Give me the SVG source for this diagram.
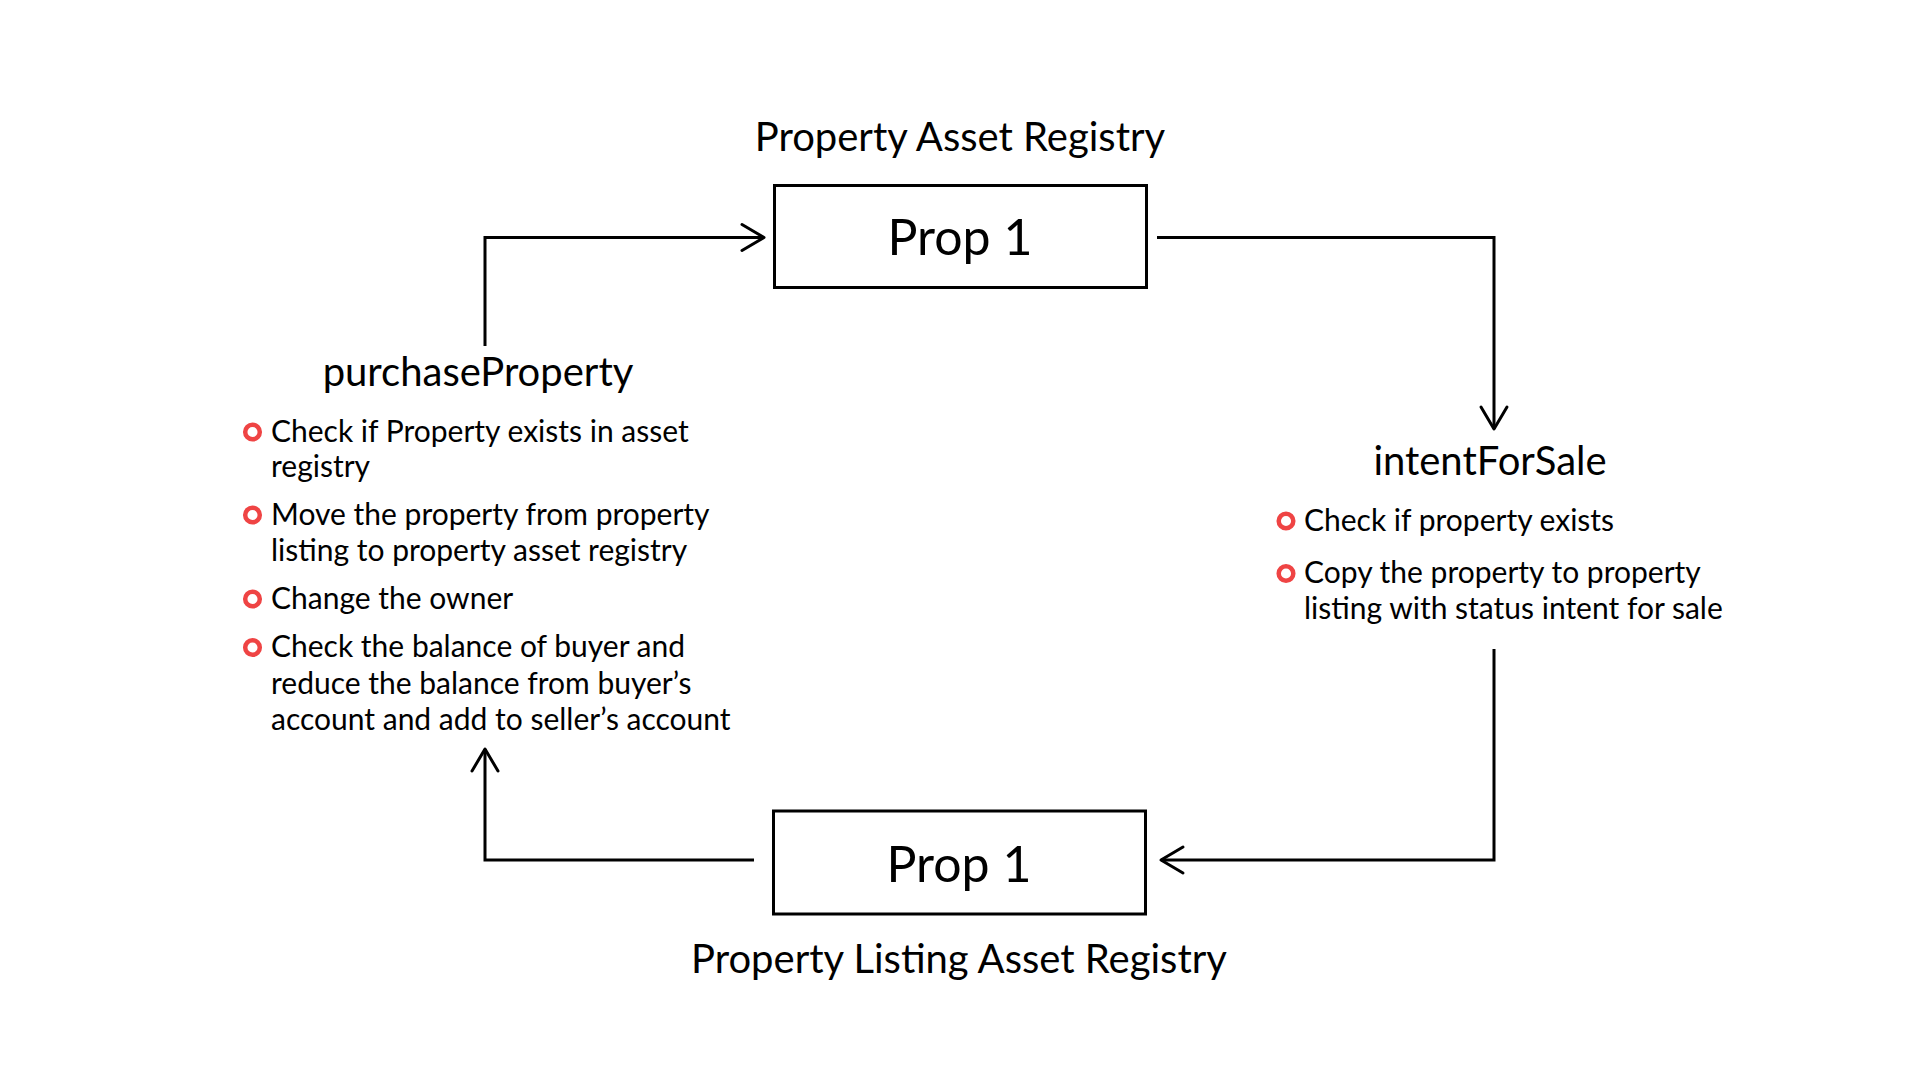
<svg xmlns="http://www.w3.org/2000/svg" width="1920" height="1080" viewBox="0 0 1920 1080">
<defs>
<style>
text{font-family:Lato,"Open Sans","Liberation Sans",sans-serif;fill:#000}
.box{fill:#fff;stroke:#000;stroke-width:3}
.lbl{font-size:40px}
.big{font-size:50px}
.item{font-size:30px}
.bul{fill:none;stroke:#EF4444;stroke-width:4.5}
.con{fill:none;stroke:#000;stroke-width:3;stroke-linejoin:miter}
</style>
<marker id="arr" markerUnits="userSpaceOnUse" markerWidth="40" markerHeight="40" viewBox="-30 -20 40 40" refX="0" refY="0" orient="auto">
<path d="M-22,-13 L0,0 L-22,13" fill="none" stroke="#000" stroke-width="3" stroke-linecap="round" stroke-linejoin="round"/>
</marker>
</defs>
<rect width="1920" height="1080" fill="#fff"/>
<g id="connectors">
<path class="con" d="M485,346 V237.5 H764" marker-end="url(#arr)"/>
<path class="con" d="M1157,237.5 H1494 V429" marker-end="url(#arr)"/>
<path class="con" d="M1494,649 V860 H1161" marker-end="url(#arr)"/>
<path class="con" d="M754,860 H485 V749" marker-end="url(#arr)"/>
</g>
<g id="asset-registry">
<text class="lbl" x="960" y="151" text-anchor="middle">Property Asset Registry</text>
<rect class="box" x="774.5" y="185.5" width="372" height="102"/>
<text class="big" x="960" y="255" text-anchor="middle">Prop 1</text>
</g>
<g id="listing-registry">
<rect class="box" x="773.5" y="811" width="372" height="103"/>
<text class="big" x="959" y="882" text-anchor="middle">Prop 1</text>
<text class="lbl" x="959" y="973" text-anchor="middle">Property Listing Asset Registry</text>
</g>
<g id="purchaseProperty">
<text class="lbl" x="478" y="386" text-anchor="middle">purchaseProperty</text>
<circle class="bul" cx="252.5" cy="432" r="7.3"/>
<text class="item" x="271" y="442">Check if Property exists in asset</text>
<text class="item" x="271" y="477">registry</text>
<circle class="bul" cx="252.5" cy="515" r="7.3"/>
<text class="item" x="271" y="524.5">Move the property from property</text>
<text class="item" x="271" y="560.5">listing to property asset registry</text>
<circle class="bul" cx="252.5" cy="599" r="7.3"/>
<text class="item" x="271" y="609">Change the owner</text>
<circle class="bul" cx="252.5" cy="647.5" r="7.3"/>
<text class="item" x="271" y="657">Check the balance of buyer and</text>
<text class="item" x="271" y="693.5">reduce the balance from buyer’s</text>
<text class="item" x="271" y="729.5">account and add to seller’s account</text>
</g>
<g id="intentForSale">
<text class="lbl" x="1490" y="475" text-anchor="middle">intentForSale</text>
<circle class="bul" cx="1286" cy="521" r="7.3"/>
<text class="item" x="1304" y="531">Check if property exists</text>
<circle class="bul" cx="1286" cy="573.5" r="7.3"/>
<text class="item" x="1304" y="583">Copy the property to property</text>
<text class="item" x="1304" y="619">listing with status intent for sale</text>
</g>
</svg>
